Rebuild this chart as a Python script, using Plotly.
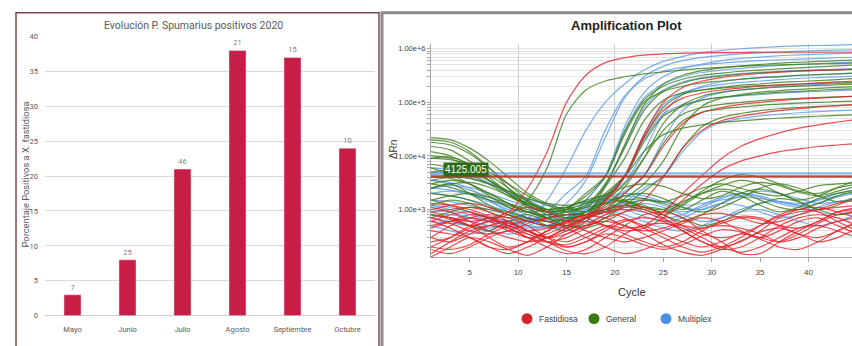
import math
import plotly.graph_objects as go

# ---------------- Left chart data ----------------
MONTHS = ["Mayo", "Junio", "Julio", "Agosto", "Septiembre", "Octubre"]
PCT_POSITIVE = [3, 8, 21, 38, 37, 24]
N_POSITIVE = [7, 25, 46, 21, 15, 10]
LEFT_Y_TICKS = [0, 5, 10, 15, 20, 25, 30, 35, 40]

# ---------------- Right chart data (ΔRn per cycle) ----------------
CYCLES = [1, 3, 5, 7, 9, 11, 13, 15, 17, 19, 21, 23, 25, 27, 29, 31, 33, 35, 37, 39, 41, 43, 45]
CYCLE_TICKS = [5, 10, 15, 20, 25, 30, 35, 40, 45]
THRESHOLD = 4125.005
THRESHOLD_MULTIPLEX = 4700
TARGETS = ["Fastidiosa", "General", "Multiplex"]

# Fastidiosa (red)
R1 = [800, 700, 600, 700, 900, 2500, 12000, 100000, 320000, 550000, 680000, 760000, 800000, 830000, 840000, 850000, 850000, 860000, 860000, 860000, 860000, 860000, 860000]
R2 = [300, 250, 350, 500, 600, 400, 300, 400, 600, 1500, 4100, 22000, 70000, 120000, 150000, 170000, 185000, 200000, 210000, 220000, 230000, 240000, 250000]
R3 = [900, 700, 500, 300, 200, 250, 400, 600, 800, 1100, 2000, 4200, 15000, 40000, 65000, 80000, 92000, 100000, 108000, 115000, 120000, 125000, 130000]
R4 = [200, 300, 500, 700, 600, 400, 300, 250, 350, 500, 450, 500, 900, 2000, 4300, 9000, 15000, 21000, 27000, 33000, 38000, 43000, 48000]
R5 = [400, 350, 300, 200, 150, 200, 300, 450, 600, 500, 400, 450, 700, 1500, 3000, 5500, 8000, 10000, 12000, 13500, 15000, 16000, 17000]
R6 = [600, 800, 900, 700, 450, 300, 250, 300, 450, 700, 900, 1500, 4000, 14000, 30000, 45000, 55000, 63000, 70000, 76000, 82000, 87000, 92000]
R7 = [500, 600, 700, 600, 400, 300, 350, 500, 700, 1400, 4000, 25000, 100000, 190000, 250000, 290000, 320000, 345000, 365000, 380000, 395000, 405000, 415000]
NR1 = [900, 1000, 1100, 900, 600, 400, 300, 350, 500, 800, 1100, 1000, 700, 400, 250, 200, 250, 400, 700, 1000, 1100, 900, 700]
NR2 = [300, 500, 700, 800, 700, 500, 300, 200, 250, 400, 600, 700, 600, 400, 250, 180, 200, 300, 500, 700, 800, 700, 500]
NR3 = [150, 250, 400, 500, 450, 300, 200, 150, 180, 300, 500, 800, 900, 700, 400, 250, 150, 150, 250, 400, 600, 900, 1000]
NR4 = [600, 450, 300, 200, 180, 250, 400, 600, 800, 900, 700, 450, 300, 200, 160, 200, 300, 500, 800, 1000, 900, 600, 400]
NR5 = [1100, 900, 600, 400, 300, 250, 300, 450, 700, 1000, 1200, 1100, 800, 500, 350, 300, 350, 500, 750, 900, 1000, 1100, 1200]
NR6 = [200, 180, 220, 350, 500, 650, 600, 450, 300, 200, 150, 180, 250, 350, 450, 500, 450, 350, 250, 300, 450, 600, 700]
NR7 = [450, 600, 800, 700, 500, 350, 250, 220, 300, 450, 650, 500, 350, 250, 200, 250, 350, 300, 250, 350, 550, 800, 900]
NR8 = [800, 650, 500, 600, 900, 1100, 900, 600, 400, 300, 250, 300, 400, 550, 700, 600, 400, 300, 400, 600, 700, 500, 350]
NR9 = [130, 200, 300, 250, 180, 140, 200, 350, 500, 600, 500, 350, 220, 160, 140, 180, 260, 380, 450, 350, 250, 300, 450]
NR10 = [1300, 1200, 1000, 750, 500, 400, 450, 600, 750, 700, 500, 400, 450, 600, 800, 850, 700, 550, 600, 800, 1000, 1300, 1500]
NR11 = [250, 300, 450, 600, 550, 400, 250, 170, 150, 200, 350, 500, 550, 450, 300, 200, 160, 200, 300, 450, 500, 400, 300]
NR12 = [700, 550, 400, 350, 400, 550, 700, 800, 700, 500, 350, 250, 200, 250, 400, 600, 750, 700, 500, 350, 300, 400, 600]
NR13 = [180, 150, 200, 300, 400, 350, 250, 200, 250, 350, 300, 220, 180, 220, 320, 420, 380, 280, 200, 180, 250, 400, 550]
NR14 = [1000, 1200, 1300, 1100, 800, 600, 500, 550, 700, 900, 1000, 900, 650, 500, 450, 550, 700, 650, 500, 450, 600, 900, 1100]

# General (green)
G1 = [1500, 1200, 900, 700, 800, 1500, 6000, 60000, 170000, 250000, 300000, 340000, 370000, 400000, 430000, 450000, 470000, 490000, 500000, 510000, 520000, 530000, 540000]
G2 = [2500, 3000, 2000, 1200, 800, 600, 700, 1000, 2000, 4200, 25000, 100000, 160000, 200000, 230000, 250000, 270000, 290000, 300000, 320000, 330000, 340000, 355000]
G3 = [6000, 4500, 3000, 1800, 1100, 900, 1000, 1100, 900, 1800, 4300, 22000, 80000, 140000, 170000, 190000, 210000, 220000, 235000, 245000, 255000, 265000, 280000]
G4 = [1200, 1500, 1300, 900, 700, 800, 600, 500, 700, 1600, 4000, 18000, 55000, 85000, 110000, 125000, 135000, 145000, 155000, 160000, 168000, 175000, 180000]
G5 = [15000, 13000, 8000, 4500, 2500, 1400, 900, 700, 800, 1000, 2000, 4200, 17000, 45000, 65000, 75000, 82000, 88000, 93000, 97000, 100000, 103000, 106000]
G6 = [20000, 18000, 12000, 6000, 2500, 1200, 900, 1000, 1800, 4000, 28000, 110000, 200000, 270000, 320000, 350000, 380000, 400000, 420000, 440000, 460000, 480000, 500000]
G7 = [3000, 2600, 2000, 1500, 1200, 900, 700, 800, 900, 2000, 4100, 12000, 25000, 33000, 38000, 42000, 45000, 48000, 51000, 53000, 55000, 57000, 59000]
G8 = [800, 700, 500, 400, 600, 700, 500, 400, 700, 2600, 9000, 45000, 110000, 150000, 170000, 185000, 195000, 205000, 212000, 220000, 226000, 232000, 238000]
G9 = [9000, 9500, 7000, 4000, 2000, 1100, 700, 500, 500, 700, 1200, 2200, 4200, 14000, 35000, 52000, 62000, 70000, 76000, 80000, 84000, 87000, 90000]
G10 = [2000, 1800, 1500, 1100, 900, 700, 600, 650, 800, 1200, 2600, 9000, 40000, 90000, 130000, 155000, 170000, 182000, 192000, 200000, 207000, 213000, 218000]
G11 = [4000, 3800, 3000, 2000, 1300, 900, 800, 900, 1200, 3000, 14000, 70000, 160000, 230000, 280000, 310000, 335000, 355000, 370000, 385000, 395000, 405000, 415000]
G12 = [700, 900, 1100, 1000, 800, 600, 500, 600, 900, 1500, 3000, 9000, 30000, 60000, 80000, 92000, 100000, 108000, 114000, 119000, 123000, 127000, 130000]
G13 = [10000, 9000, 6000, 3500, 2000, 1300, 1000, 900, 1100, 2800, 16000, 90000, 220000, 320000, 390000, 440000, 480000, 510000, 540000, 560000, 580000, 600000, 620000]
G14 = [3000, 3500, 3000, 2000, 1300, 900, 700, 600, 700, 900, 1600, 3000, 8000, 35000, 85000, 120000, 140000, 155000, 166000, 175000, 183000, 190000, 196000]
NG1 = [22000, 20000, 14000, 8000, 4000, 2000, 1300, 1000, 1100, 1300, 1500, 1600, 1400, 1800, 2500, 3000, 2500, 2000, 1800, 2200, 2800, 3000, 3200]
NG2 = [18000, 16000, 11000, 6000, 3000, 1500, 900, 700, 800, 1000, 1200, 1000, 800, 1200, 2000, 2800, 3500, 3000, 2000, 1500, 1800, 2500, 3000]
NG3 = [9000, 8500, 7000, 5000, 3000, 1800, 1200, 900, 800, 900, 1200, 1500, 1300, 1000, 1500, 2200, 1800, 1200, 900, 1100, 1600, 2000, 2300]
NG4 = [5000, 5500, 5000, 3500, 2200, 1400, 1000, 800, 900, 1300, 1800, 2000, 1600, 1100, 900, 1100, 1600, 2500, 3000, 2500, 1800, 1400, 1600]
NG5 = [2500, 3000, 3200, 2600, 1800, 1200, 800, 600, 700, 1000, 1400, 1200, 800, 600, 800, 1300, 2000, 2400, 2000, 1400, 1000, 1200, 1800]
NG6 = [12000, 10000, 6500, 3500, 2000, 1300, 1000, 1100, 1500, 1800, 1500, 1100, 900, 1300, 2200, 3500, 4500, 4000, 3000, 2200, 2000, 2600, 3500]
NG7 = [1500, 1800, 2000, 1700, 1300, 1000, 700, 500, 450, 600, 900, 1100, 1000, 700, 500, 600, 900, 1300, 1600, 1400, 1000, 800, 900]
NG8 = [3500, 4000, 3800, 3000, 2200, 1600, 1300, 1200, 1400, 1900, 2600, 3000, 2700, 2000, 1600, 1800, 2600, 3200, 2800, 2100, 1800, 2200, 2800]
NG9 = [7000, 6000, 4500, 3000, 1800, 1200, 900, 1000, 1300, 1600, 1400, 1100, 1000, 1400, 2000, 2400, 2100, 1500, 1100, 1000, 1300, 1800, 2200]

# Multiplex (blue)
B1 = [1000, 900, 700, 600, 600, 700, 1500, 6000, 30000, 100000, 220000, 400000, 580000, 720000, 850000, 930000, 1000000, 1050000, 1100000, 1130000, 1150000, 1170000, 1200000]
B2 = [3500, 3200, 2500, 1500, 900, 600, 500, 600, 1500, 4100, 30000, 120000, 220000, 300000, 360000, 400000, 430000, 460000, 490000, 510000, 530000, 550000, 570000]
B3 = [5000, 4800, 4000, 3000, 2000, 1500, 1000, 700, 600, 1500, 4200, 25000, 90000, 150000, 190000, 215000, 235000, 250000, 265000, 280000, 290000, 300000, 310000]
B4 = [500, 400, 350, 400, 600, 900, 1200, 1000, 800, 1700, 4000, 20000, 60000, 90000, 110000, 122000, 132000, 140000, 148000, 155000, 160000, 165000, 170000]
B5 = [2000, 1800, 1500, 1200, 900, 700, 600, 700, 900, 1300, 2200, 4300, 20000, 70000, 120000, 150000, 170000, 185000, 198000, 208000, 216000, 224000, 230000]
B6 = [700, 600, 500, 450, 500, 600, 900, 2000, 4200, 30000, 130000, 270000, 380000, 450000, 500000, 540000, 570000, 600000, 620000, 640000, 660000, 680000, 700000]
B7 = [1200, 1100, 900, 700, 600, 500, 450, 500, 700, 900, 1400, 2500, 4100, 12000, 28000, 42000, 50000, 56000, 60000, 64000, 67000, 70000, 72000]
B8 = [600, 550, 500, 400, 350, 400, 500, 700, 1500, 4200, 35000, 150000, 300000, 420000, 520000, 600000, 660000, 700000, 740000, 770000, 790000, 810000, 830000]
B9 = [1500, 1400, 1200, 1000, 800, 700, 650, 700, 1000, 2800, 15000, 80000, 170000, 240000, 290000, 320000, 345000, 365000, 380000, 395000, 405000, 415000, 425000]
B10 = [2500, 2300, 2000, 1500, 1100, 800, 700, 800, 1100, 1800, 3200, 12000, 60000, 140000, 200000, 240000, 270000, 290000, 305000, 318000, 330000, 340000, 350000]
B11 = [800, 700, 600, 500, 450, 500, 700, 1300, 3500, 22000, 120000, 300000, 470000, 600000, 690000, 750000, 800000, 840000, 870000, 900000, 920000, 940000, 960000]
NB1 = [6000, 5500, 4500, 3200, 2000, 1300, 900, 800, 1000, 1400, 1800, 1600, 1200, 900, 1100, 1600, 2000, 1800, 1400, 1200, 1500, 2000, 2400]
NB2 = [2000, 2200, 1900, 1400, 1000, 700, 500, 450, 550, 800, 1100, 1300, 1100, 800, 600, 700, 1000, 1300, 1400, 1200, 900, 800, 1000]
NB3 = [3500, 3000, 2300, 1700, 1200, 900, 800, 900, 1200, 1500, 1300, 900, 700, 800, 1200, 1700, 2000, 1700, 1300, 1100, 1300, 1700, 2000]
NB4 = [900, 800, 700, 600, 500, 450, 500, 700, 900, 1000, 800, 600, 450, 400, 500, 700, 900, 1000, 800, 600, 500, 600, 800]
NB5 = [4500, 4300, 3800, 3000, 2200, 1600, 1200, 1000, 900, 1000, 1300, 1500, 1400, 1200, 1300, 1500, 1700, 1600, 1400, 1300, 1500, 1800, 2100]
NB6 = [2500, 2800, 2600, 2000, 1500, 1100, 900, 1000, 1300, 1700, 2000, 1800, 1400, 1100, 1000, 1300, 1800, 2200, 2000, 1600, 1300, 1400, 1700]
NB7 = [1200, 1000, 800, 650, 550, 600, 800, 1100, 1400, 1300, 1000, 750, 600, 700, 1000, 1300, 1200, 900, 700, 800, 1100, 1400, 1500]

GENERAL = [NG1, NG2, NG3, NG4, NG5, NG6, NG7, NG8, NG9,
           G1, G2, G3, G4, G5, G6, G7, G8, G9, G10, G11, G12, G13, G14]
MULTIPLEX = [NB1, NB2, NB3, NB4, NB5, NB6, NB7,
             B1, B2, B3, B4, B5, B6, B7, B8, B9, B10, B11]
FASTIDIOSA = [NR1, NR2, NR3, NR4, NR5, NR6, NR7, NR8, NR9, NR10, NR11, NR12, NR13, NR14,
              R1, R2, R3, R4, R5, R6, R7]

RED = "#E3242B"
GREEN = "#3C7D1C"
BLUE = "#5A9BE3"
LEGEND_COLORS = ["#D7262B", "#3B7A12", "#4A90E2"]
LFONT = "Roboto, Liberation Sans, sans-serif"
SANS = "Liberation Sans, Arial, sans-serif"

W, H = 852, 346

fig = go.Figure()

# Left: bar chart
fig.add_trace(go.Bar(
    x=MONTHS, y=PCT_POSITIVE, text=N_POSITIVE, textposition="outside",
    textfont=dict(size=7.5, color="#7f7f7f", family=LFONT),
    marker=dict(color="#C81E46"), cliponaxis=False,
    xaxis="x", yaxis="y", showlegend=False, hoverinfo="skip",
))

# Right: amplification curves
for group, color in ((MULTIPLEX, BLUE), (GENERAL, GREEN), (FASTIDIOSA, RED)):
    for curve in group:
        fig.add_trace(go.Scatter(
            x=CYCLES, y=curve, mode="lines",
            line=dict(color=color, width=1.2, shape="spline", smoothing=0.8),
            opacity=0.8, xaxis="x2", yaxis="y2", showlegend=False, hoverinfo="skip",
        ))

# Threshold lines (on overlay axis that carries the 10-cycle grid)
for tval, color in ((THRESHOLD_MULTIPLEX, BLUE), (THRESHOLD, GREEN), (THRESHOLD, RED)):
    fig.add_trace(go.Scatter(
        x=[CYCLES[0], CYCLES[-1]], y=[tval, tval], mode="lines",
        line=dict(color=color, width=2), opacity=0.75,
        xaxis="x3", yaxis="y2", showlegend=False, hoverinfo="skip",
    ))

# log-axis ticks (major with labels, minor with grid only)
y_tickvals, y_ticktext = [], []
for exp in range(2, 7):
    for m in range(1, 10):
        v = m * 10 ** exp
        if v > 1.3e6:
            break
        y_tickvals.append(v)
        y_ticktext.append(f"1.00e+{exp}" if (m == 1 and exp >= 3) else "")

# legend drawn as dots + labels below the amplification plot
legend_dot_x = [527, 594, 666]
legend_y = H - 323
shapes = [
    dict(type="rect", xref="paper", yref="paper", x0=16 / W, x1=379 / W,
         y0=-0.02, y1=(H - 9) / H, line=dict(color="#7a4a4e", width=1.5)),
    dict(type="rect", xref="paper", yref="paper", x0=382 / W, x1=1.02,
         y0=-0.02, y1=(H - 9) / H, line=dict(color="#8a8a8a", width=3)),
]
annotations = [
    dict(text="Evolución P. Spumarius positivos 2020", xref="paper", yref="paper",
         x=193 / W, y=(H - 22) / H, showarrow=False, xanchor="center", yanchor="middle",
         font=dict(size=10.5, color="#595959", family=LFONT)),
    dict(text="Porcentaje Positivos a X. fastidiosa", xref="paper", yref="paper",
         x=25 / W, y=(H - 175) / H, showarrow=False, textangle=-90,
         xanchor="center", yanchor="middle",
         font=dict(size=9.3, color="#595959", family=LFONT)),
    dict(text="<b>Amplification Plot</b>", xref="paper", yref="paper",
         x=626 / W, y=(H - 22) / H, showarrow=False, xanchor="center", yanchor="middle",
         font=dict(size=13, color="#222", family=SANS)),
    dict(text="ΔRn", xref="paper", yref="paper", x=393 / W, y=(H - 150) / H,
         showarrow=False, textangle=-90, xanchor="center", yanchor="middle",
         font=dict(size=10, color="#333", family=SANS)),
    dict(text="Cycle", xref="paper", yref="paper", x=632 / W, y=(H - 296) / H,
         showarrow=False, xanchor="center", yanchor="middle",
         font=dict(size=11, color="#333", family=SANS)),
    dict(text=f"{THRESHOLD:.3f}", xref="x2 domain", yref="y2",
         x=0.028, y=math.log10(THRESHOLD), showarrow=False,
         xanchor="left", yanchor="bottom", bgcolor="#2E6B16", borderpad=1,
         font=dict(size=10, color="white", family=SANS)),
]
for name, color, dx in zip(TARGETS, LEGEND_COLORS, legend_dot_x):
    shapes.append(dict(type="circle", xref="paper", yref="paper",
                       x0=(dx - 5.5) / W, x1=(dx + 5.5) / W,
                       y0=(legend_y - 5.5) / H, y1=(legend_y + 5.5) / H,
                       fillcolor=color, line=dict(width=0)))
    annotations.append(dict(text=name, xref="paper", yref="paper",
                            x=(dx + 10) / W, y=legend_y / H, showarrow=False,
                            xanchor="left", yanchor="middle",
                            font=dict(size=8.5, color="#444", family=SANS)))

fig.update_layout(
    width=W, height=H,
    margin=dict(l=0, r=0, t=0, b=0),
    paper_bgcolor="white", plot_bgcolor="white",
    bargap=0.69, showlegend=False,
    xaxis=dict(domain=[45 / W, 375 / W], anchor="y", showgrid=False, showline=False,
               ticks="", ticklabelstandoff=8,
               tickfont=dict(size=7.5, color="#595959", family=LFONT)),
    yaxis=dict(domain=[26 / H, 313 / H], anchor="x", range=[0, 40.05], tickvals=LEFT_Y_TICKS,
               showgrid=True, gridcolor="#d9d9d9", gridwidth=1.2,
               zeroline=True, zerolinecolor="#d0d0d0", zerolinewidth=1.2,
               showline=False, ticks="", ticklabelstandoff=6,
               tickfont=dict(size=7.5, color="#595959", family=LFONT)),
    xaxis2=dict(domain=[431 / W, 1.0], anchor="y2", range=[1, 44.5], tickvals=CYCLE_TICKS,
                showgrid=False, zeroline=False, showline=True, linecolor="#a8a8a8",
                ticks="outside", ticklen=4, tickcolor="#a8a8a8", ticklabelstandoff=3,
                tickfont=dict(size=8, color="#444", family=SANS)),
    xaxis3=dict(overlaying="x2", anchor="y2", range=[1, 44.5], tick0=0, dtick=10,
                showgrid=True, gridcolor="#cdcdcd", gridwidth=1, showticklabels=False,
                ticks="", zeroline=False, showline=False),
    yaxis2=dict(domain=[86 / H, 305 / H], anchor="x2", type="log", range=[2.11, 6.09],
                tickvals=y_tickvals, ticktext=y_ticktext,
                showgrid=True, gridcolor="#e4e4e4", gridwidth=1,
                showline=True, linecolor="#a8a8a8", ticks="outside", ticklen=3,
                tickcolor="#a8a8a8", zeroline=False,
                tickfont=dict(size=7.5, color="#444", family=SANS)),
    shapes=shapes,
    annotations=annotations,
)

fig.write_html("out.html", config={"displayModeBar": False},
               post_script="document.body.style.margin='0px';")
